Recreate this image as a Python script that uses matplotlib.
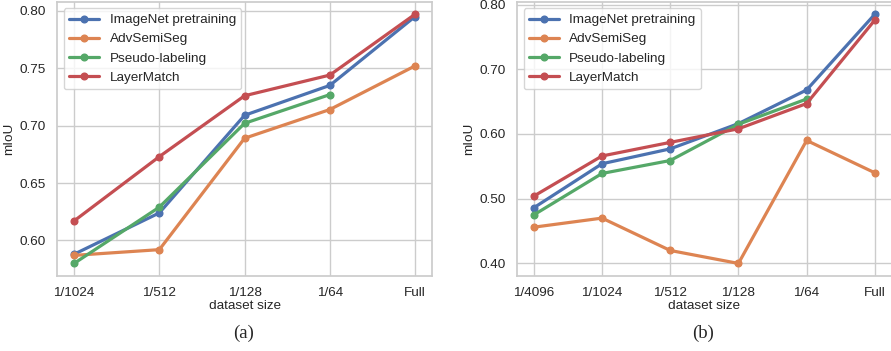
import matplotlib.pyplot as plt
import seaborn as sns
from matplotlib.ticker import FormatStrFormatter

sns.set_theme(style="whitegrid")
plt.rcParams['font.family'] = ['Liberation Sans', 'DejaVu Sans']

methods = ["ImageNet pretraining", "AdvSemiSeg", "Pseudo-labeling", "LayerMatch"]
colors = sns.color_palette("deep")[:4]

# (a)
sizes_a = ["1/1024", "1/512", "1/128", "1/64", "Full"]
imagenet_a = [0.588, 0.624, 0.709, 0.735, 0.795]
adv_a = [0.587, 0.592, 0.689, 0.714, 0.752]
pseudo_a = [0.580, 0.629, 0.702, 0.727]
layer_a = [0.617, 0.673, 0.726, 0.744, 0.797]

# (b)
sizes_b = ["1/4096", "1/1024", "1/512", "1/128", "1/64", "Full"]
imagenet_b = [0.486, 0.554, 0.577, 0.616, 0.668, 0.785]
adv_b = [0.456, 0.470, 0.420, 0.400, 0.590, 0.540]
pseudo_b = [0.475, 0.539, 0.559, 0.615, 0.654]
layer_b = [0.504, 0.566, 0.587, 0.608, 0.647, 0.776]

fs = 9.7
fig = plt.figure(figsize=(8.91, 3.51), dpi=100)
ax1 = fig.add_axes([0.064, 0.214, 0.421, 0.781])
ax2 = fig.add_axes([0.580, 0.214, 0.421, 0.781])

panels = [
    (ax1, sizes_a, [imagenet_a, adv_a, pseudo_a, layer_a], "(a)"),
    (ax2, sizes_b, [imagenet_b, adv_b, pseudo_b, layer_b], "(b)"),
]

for ax, sizes, series, cap in panels:
    for name, vals, c in zip(methods, series, colors):
        ax.plot(range(len(vals)), vals, "-o", color=c, lw=2.3, ms=4.8, label=name)
    ax.set_xticks(range(len(sizes)))
    ax.set_xticklabels(sizes)
    ax.yaxis.set_major_formatter(FormatStrFormatter("%.2f"))
    ax.tick_params(labelsize=fs, pad=2)
    ax.set_xlabel("dataset size", fontsize=fs, labelpad=1)
    ax.set_ylabel("mIoU", fontsize=fs, labelpad=3)
    ax.legend(loc="upper left", fontsize=fs, handlelength=2.2, borderaxespad=0.5)
    pos = ax.get_position()
    fig.text(pos.x0 + pos.width / 2 - 0.001, 0.05, cap, ha="center", va="center",
             fontsize=13.5, family="Liberation Serif")

ax2.set_yticks([0.4, 0.5, 0.6, 0.7, 0.8])

fig.savefig("out.png", dpi=100)
